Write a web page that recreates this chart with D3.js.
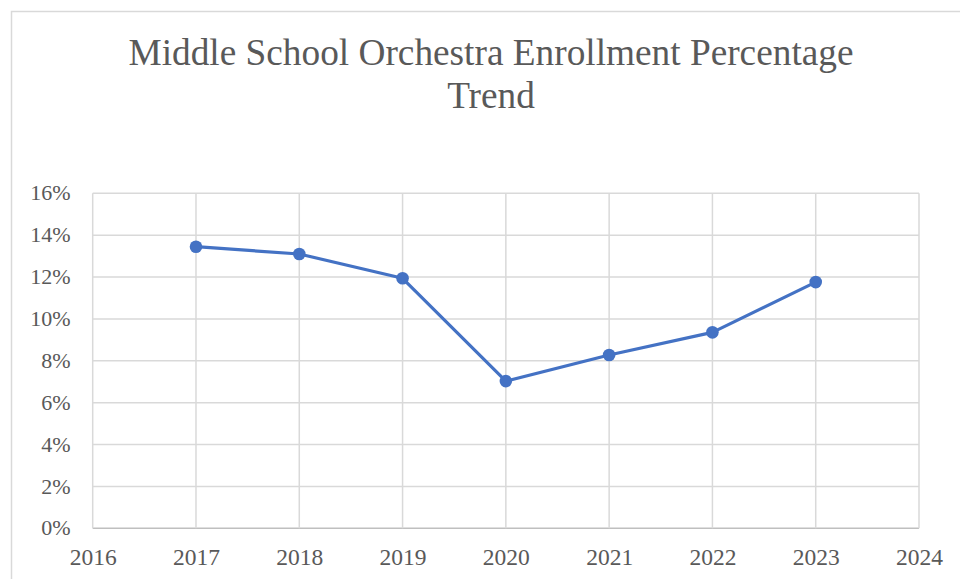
<!DOCTYPE html>
<html><head><meta charset="utf-8">
<script src="https://cdn.jsdelivr.net/npm/d3@7"></script>
<style>body{margin:0;background:#fff}svg{display:block}</style>
</head><body>
<script>
const years = [2017, 2018, 2019, 2020, 2021, 2022, 2023];
const values = [13.45, 13.1, 11.94, 7.03, 8.28, 9.36, 11.76];
const xTicks = [2016, 2017, 2018, 2019, 2020, 2021, 2022, 2023, 2024];
const yTicks = [0, 2, 4, 6, 8, 10, 12, 14, 16];
const titleLines = ["Middle School Orchestra Enrollment Percentage", "Trend"];

const W = 960, H = 579;
const svg = d3.select("body").append("svg").attr("width", W).attr("height", H);
svg.append("rect").attr("x", 11.5).attr("y", 11.5).attr("width", W + 20).attr("height", H + 20)
  .attr("fill", "#fff").attr("stroke", "#d9d9d9").attr("stroke-width", 1.5);

const x = d3.scaleLinear().domain([2016, 2024]).range([92.7, 919]);
const y = d3.scaleLinear().domain([0, 16]).range([528.3, 193.3]);

const font = "'Liberation Serif', 'Times New Roman', serif";
svg.selectAll("text.title").data(titleLines).join("text").attr("class", "title")
  .attr("x", 491).attr("y", (d, i) => 65 + i * 43)
  .attr("text-anchor", "middle").attr("font-family", font).attr("font-size", 37.3)
  .attr("fill", "#595959").text(d => d);

// grid
const g = svg.append("g");
g.selectAll("line.h").data(yTicks).join("line").attr("class", "h")
  .attr("x1", x(2016)).attr("x2", x(2024)).attr("y1", d => y(d)).attr("y2", d => y(d))
  .attr("stroke", d => d === 0 ? "#bfbfbf" : "#d9d9d9").attr("stroke-width", 1.5);
g.selectAll("line.v").data(xTicks).join("line").attr("class", "v")
  .attr("y1", y(0)).attr("y2", y(16)).attr("x1", d => x(d)).attr("x2", d => x(d))
  .attr("stroke", "#d9d9d9").attr("stroke-width", 1.5);

// axes labels
const yAxis = d3.axisLeft(y).tickValues(yTicks).tickFormat(d => d + "%").tickSize(0).tickPadding(22);
const ya = svg.append("g").attr("transform", `translate(${x(2016)},0)`).call(yAxis);
ya.select(".domain").remove();
ya.selectAll("text").attr("font-family", font).attr("font-size", 22).attr("fill", "#595959").attr("dy", "0.3em");

const xAxis = d3.axisBottom(x).tickValues(xTicks).tickFormat(d3.format("d")).tickSize(0);
const xa = svg.append("g").attr("transform", `translate(0,${y(0)})`).call(xAxis);
xa.select(".domain").remove();
xa.selectAll("text").attr("font-family", font).attr("font-size", 23.5).attr("fill", "#595959")
  .attr("dy", null).attr("y", 36.5);

const data = years.map((yr, i) => ({yr, v: values[i]}));
svg.append("path").datum(data)
  .attr("d", d3.line().x(d => x(d.yr)).y(d => y(d.v)))
  .attr("fill", "none").attr("stroke", "#4472C4").attr("stroke-width", 3.2).attr("stroke-linejoin", "round");
svg.selectAll("circle.pt").data(data).join("circle").attr("class", "pt")
  .attr("cx", d => x(d.yr)).attr("cy", d => y(d.v)).attr("r", 6.3).attr("fill", "#4472C4");
</script>
</body></html>
